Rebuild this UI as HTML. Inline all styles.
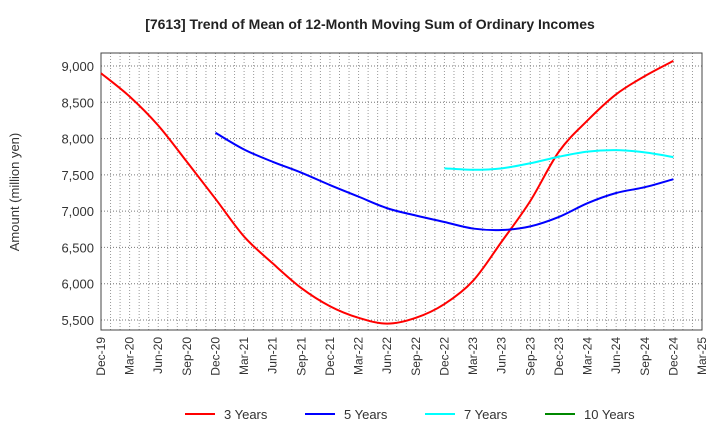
<!DOCTYPE html>
<html><head><meta charset="utf-8"><style>
body{margin:0;background:#fff;font-family:"Liberation Sans",sans-serif;}
</style></head><body>
<svg id="c" width="720" height="440" xmlns="http://www.w3.org/2000/svg" font-family="Liberation Sans, sans-serif"></svg>
<script>
const xLabels=["Dec-19","Mar-20","Jun-20","Sep-20","Dec-20","Mar-21","Jun-21","Sep-21","Dec-21","Mar-22","Jun-22","Sep-22","Dec-22","Mar-23","Jun-23","Sep-23","Dec-23","Mar-24","Jun-24","Sep-24","Dec-24","Mar-25"];
const yTicks=[5500,6000,6500,7000,7500,8000,8500,9000];
const s3Start=0;
const s3=[8900,8580,8180,7680,7170,6650,6280,5940,5690,5530,5450,5530,5720,6040,6580,7140,7820,8250,8610,8860,9070];
const s5Start=4;
const s5=[8080,7850,7680,7530,7360,7200,7040,6940,6850,6760,6740,6790,6920,7110,7250,7330,7440];
const s7Start=12;
const s7=[7590,7570,7590,7660,7750,7820,7840,7810,7745];
const s10=[];
const NS="http://www.w3.org/2000/svg",svg=document.getElementById('c');
const L=101,R=702,T=53,B=330;
const X=i=>L+i*(R-L)/(xLabels.length-1);
const Y=v=>66+(9000-v)*(320-66)/3500;
function el(t,a,p){const e=document.createElementNS(NS,t);for(const k in a)e.setAttribute(k,a[k]);(p||svg).appendChild(e);return e;}
let t=el('text',{x:370,y:29,'text-anchor':'middle','font-size':14,'font-weight':'bold',fill:'#222'});t.textContent="[7613]  Trend of Mean of 12-Month Moving Sum of Ordinary Incomes";


// grid
for(let m=1;m<63;m++){const x=L+m*(R-L)/63;const g=el('line',{x1:x,x2:x,y1:T,y2:B,stroke:'#999','stroke-dasharray':'1,2','stroke-width':1});

}
yTicks.forEach(v=>{const y=Y(v);const g=el('line',{x1:L,x2:R,y1:y,y2:y,stroke:'#777','stroke-dasharray':'1,2'});


const tx=el('text',{x:94,y:y+5,'text-anchor':'end','font-size':13,fill:'#333'});tx.textContent=v.toLocaleString('en-US');

});
xLabels.forEach((lb,i)=>{const x=X(i);const tx=el('text',{transform:`translate(${x+4},337) rotate(-90)`,'text-anchor':'end','font-size':12,fill:'#333'});tx.textContent=lb;

});
const fr=el('rect',{x:L,y:T,width:R-L,height:B-T,fill:'none',stroke:'#444','stroke-width':1});


const yt=el('text',{transform:'translate(19,192) rotate(-90)','text-anchor':'middle','font-size':13,fill:'#333'});yt.textContent="Amount (million yen)";


function path(vals,start){const p=vals.map((v,i)=>[X(start+i),Y(v)]);let d=`M${p[0][0]},${p[0][1]}`;
for(let i=0;i<p.length-1;i++){const p0=p[i-1]||p[i],p1=p[i],p2=p[i+1],p3=p[i+2]||p2;
d+=` C${p1[0]+(p2[0]-p0[0])/6},${p1[1]+(p2[1]-p0[1])/6} ${p2[0]-(p3[0]-p1[0])/6},${p2[1]-(p3[1]-p1[1])/6} ${p2[0]},${p2[1]}`;}return d;}
[[s3,s3Start,'#f00','series-3-years'],[s5,s5Start,'#00f','series-5-years'],[s7,s7Start,'#0ff','series-7-years']].forEach(([v,s,c,n])=>{if(!v.length)return;const e=el('path',{d:path(v,s),fill:'none',stroke:c,'stroke-width':2});

});
[["3 Years",'#f00',185],["5 Years",'#00f',305],["7 Years",'#0ff',425],["10 Years",'#080',545]].forEach(([n,c,x])=>{const g=el('g',{});


el('line',{x1:x,x2:x+30,y1:414,y2:414,stroke:c,'stroke-width':2},g);const tx=el('text',{x:x+39,y:419,'font-size':13,fill:'#333'},g);tx.textContent=n;});
</script>
</body></html>
